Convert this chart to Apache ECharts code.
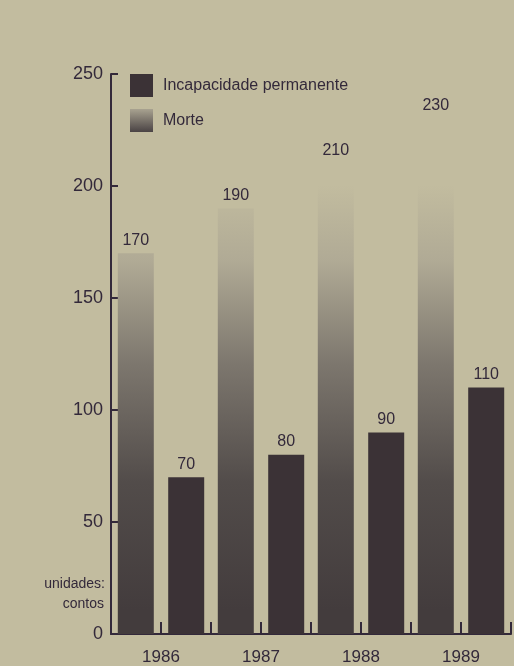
<!DOCTYPE html>
<html>
<head>
<meta charset="utf-8">
<script src="https://cdn.jsdelivr.net/npm/echarts@6/dist/echarts.min.js"></script>
<style>
  html, body { margin: 0; padding: 0; background: #c2bc9f; }
  #chart { width: 514px; height: 666px; }
</style>
</head>
<body>
<div id="chart"></div>
<script>
// Anos e valores (unidades: contos)
const years = ['1986', '1987', '1988', '1989'];
const morte = [170, 190, 210, 230];
const incapacidade = [70, 80, 90, 110];
const yTicks = [0, 50, 100, 150, 200, 250];

const ink = '#33293a';
const paper = '#c2bc9f';
const font = "'Liberation Sans', Arial, sans-serif";

// Shading for "Morte": fades from paper tone near the top into dark ink
const morteFill = new echarts.graphic.LinearGradient(0, 185, 0, 610, [
  { offset: 0, color: paper },
  { offset: 0.18, color: '#b0aa95' },
  { offset: 0.42, color: '#7d776e' },
  { offset: 0.7, color: '#524c4a' },
  { offset: 1, color: '#433c3d' }
], true);
const morteLegendFill = new echarts.graphic.LinearGradient(0, 0, 0, 1, [
  { offset: 0, color: '#a8a290' },
  { offset: 1, color: '#4a4344' }
]);

const chart = echarts.init(document.getElementById('chart'), null, { renderer: 'canvas' });

chart.setOption({
  backgroundColor: paper,
  animation: false,
  textStyle: { fontFamily: font, color: ink },
  grid: { left: 111, right: 3, top: 74, bottom: 32, containLabel: false },
  legend: {
    orient: 'vertical',
    left: 125,
    top: 69,
    itemWidth: 23,
    itemHeight: 23,
    itemGap: 12,
    icon: 'rect',
    textStyle: { fontSize: 16, color: ink, fontFamily: font, padding: [0, 0, 0, 5] },
    data: [
      { name: 'Incapacidade permanente', itemStyle: { color: '#3b3236' } },
      { name: 'Morte', itemStyle: { color: morteLegendFill } }
    ]
  },
  xAxis: [
    {
      type: 'category',
      data: years,
      boundaryGap: true,
      axisLine: { lineStyle: { color: ink, width: 2 } },
      axisTick: { show: true, inside: true, length: 12, lineStyle: { color: ink, width: 2 } },
      axisLabel: { fontSize: 17, color: ink, margin: 15, fontFamily: font }
    },
    {
      type: 'category',
      data: years,
      position: 'bottom',
      boundaryGap: true,
      axisLine: { show: false },
      axisTick: { show: true, inside: true, alignWithLabel: true, length: 12, lineStyle: { color: ink, width: 2 } },
      axisLabel: { show: false }
    }
  ],
  yAxis: {
    type: 'value',
    min: yTicks[0],
    max: yTicks[yTicks.length - 1],
    interval: yTicks[1] - yTicks[0],
    splitLine: { show: false },
    axisLine: { show: true, lineStyle: { color: ink, width: 2 } },
    axisTick: { show: true, inside: true, length: 7, lineStyle: { color: ink, width: 2 } },
    axisLabel: { fontSize: 18, color: ink, margin: 8, fontFamily: font }
  },
  series: [
    {
      name: 'Morte',
      type: 'bar',
      data: morte,
      barWidth: 36,
      barGap: '40%',
      itemStyle: { color: morteFill },
      label: { show: true, position: 'top', distance: 5, fontSize: 16, color: ink, fontFamily: font }
    },
    {
      name: 'Incapacidade permanente',
      type: 'bar',
      data: incapacidade,
      barWidth: 36,
      barGap: '40%',
      itemStyle: { color: '#3b3236' },
      label: { show: true, position: 'top', distance: 5, fontSize: 16, color: ink, fontFamily: font }
    }
  ],
  graphic: [
    {
      type: 'text',
      right: 514 - 105,
      top: 577,
      style: { text: 'unidades:', fontSize: 14, fill: ink, fontFamily: font, align: 'right' }
    },
    {
      type: 'text',
      right: 514 - 104,
      top: 597,
      style: { text: 'contos', fontSize: 14, fill: ink, fontFamily: font, align: 'right' }
    }
  ]
});
</script>
</body>
</html>
